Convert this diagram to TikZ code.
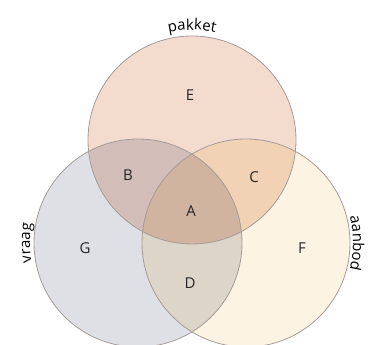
\documentclass[tikz,border=0pt]{standalone}
\usepackage{fontspec}
\setmainfont{Open Sans}
\usetikzlibrary{decorations.text,calc}
\definecolor{cE}{RGB}{243,219,206}
\definecolor{cG}{RGB}{223,224,230}
\definecolor{cF}{RGB}{253,243,226}
\definecolor{cB}{RGB}{210,189,184}
\definecolor{cC}{RGB}{242,210,180}
\definecolor{cD}{RGB}{221,213,199}
\definecolor{cA}{RGB}{208,180,160}
\definecolor{edge}{RGB}{165,155,152}
\newcommand{\lblfont}{\fontsize{15}{18}\selectfont}
\tikzset{
  region/.style={font=\lblfont, text=black!85, inner sep=0pt},
  ring/.style={draw=edge, line width=0.8pt},
  curvelabel/.style={decorate, decoration={text along path, text align=center, text={|\lblfont|#1}}}
}
\begin{document}
\begin{tikzpicture}
\useasboundingbox (0pt,0pt) rectangle (368pt,345pt);
\clip (0pt,0pt) rectangle (368pt,345pt);
\coordinate (T) at (192pt,205pt);
\coordinate (L) at (138pt,102pt);
\coordinate (R) at (246pt,102pt);
\def\rr{104pt}
% base fills
\fill[cE] (T) circle (\rr);
\fill[cG] (L) circle (\rr);
\fill[cF] (R) circle (\rr);
% pairwise overlaps
\begin{scope}\clip (T) circle (\rr); \fill[cB] (L) circle (\rr);\end{scope}
\begin{scope}\clip (T) circle (\rr); \fill[cC] (R) circle (\rr);\end{scope}
\begin{scope}\clip (L) circle (\rr); \fill[cD] (R) circle (\rr);\end{scope}
% triple overlap
\begin{scope}\clip (T) circle (\rr); \clip (L) circle (\rr); \fill[cA] (R) circle (\rr);\end{scope}
% outlines
\draw[ring] (T) circle (\rr);
\draw[ring] (L) circle (\rr);
\draw[ring] (R) circle (\rr);
% region letters
\node[region] (E) at (190pt,250pt) {E};
\node[region] (B) at (128pt,170pt) {B};
\node[region] (C) at (254pt,168pt) {C};
\node[region] (A) at (191pt,134pt) {A};
\node[region] (G) at (85pt,97pt) {G};
\node[region] (F) at (302pt,97pt) {F};
\node[region] (D) at (190pt,62pt) {D};
% curved set labels
\path[curvelabel=pakket] ($(T)+(150:110pt)$) arc (150:30:110pt);
\path[curvelabel=vraag] ($(L)+(205:108pt)$) arc (205:155:108pt);
\path[curvelabel=aanbod] ($(R)+(25:107pt)$) arc (25:-25:107pt);
\end{tikzpicture}
\end{document}
